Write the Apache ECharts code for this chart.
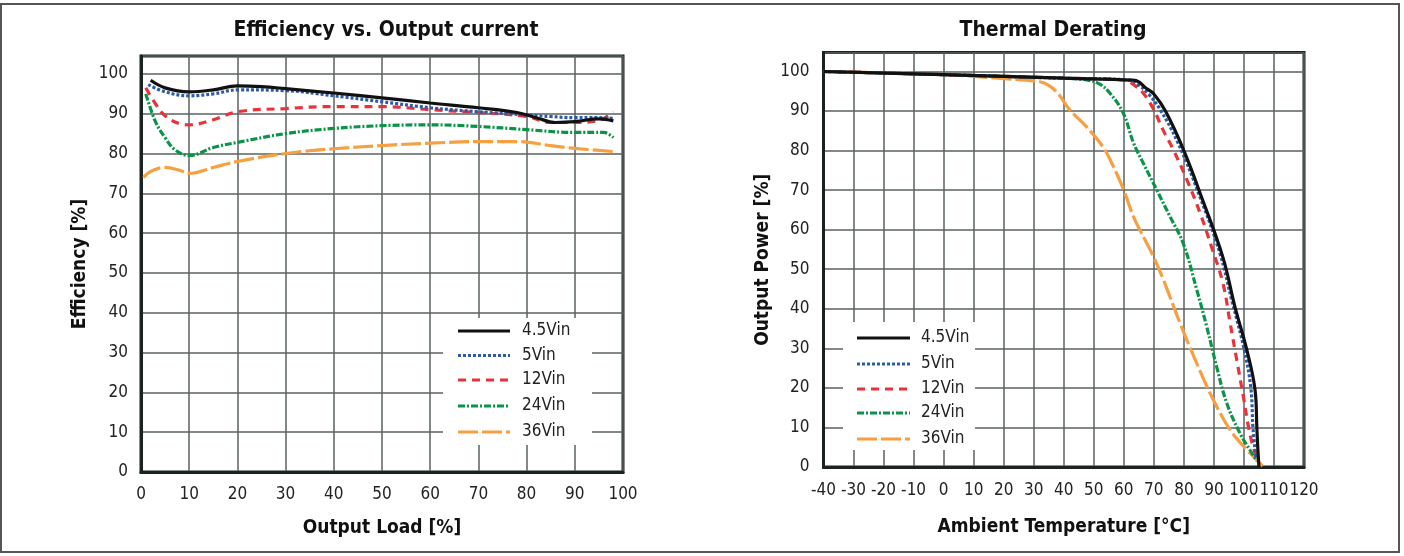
<!DOCTYPE html>
<html>
<head>
<meta charset="utf-8">
<script src="https://cdn.jsdelivr.net/npm/echarts@6/dist/echarts.min.js"></script>
<style>
html,body{margin:0;padding:0;background:#fff;}
#c{width:1404px;height:556px;}
</style>
</head>
<body>
<div id="c"></div>
<script>
// ---------- data ----------
const seriesNames = ['4.5Vin', '5Vin', '12Vin', '24Vin', '36Vin'];
const effTitle = 'Efficiency vs. Output current';
const thermTitle = 'Thermal Derating';

// Efficiency vs load: [load %, efficiency %]
const eff45 = [[2,98.4],[5,96.5],[10,95.5],[15,96],[20,97],[25,96.8],[30,96.3],[40,95.2],[50,94],[60,92.7],[70,91.5],[78,90.3],[82,89],[86,87.8],[90,88],[95,88.7],[98,88.2]];
const eff5 = [[1.5,97.3],[5,95.5],[10,94.5],[15,95],[20,96],[30,95.8],[40,94.5],[50,93],[60,91.5],[70,90.5],[80,89.7],[85,89.3],[90,89],[95,89],[98,88.8]];
const eff12 = [[1,96.5],[3,92.5],[5,89.5],[8,87.5],[10,87.2],[15,88.5],[20,90.5],[30,91.3],[40,91.8],[50,91.8],[60,91],[70,90.3],[80,89.3],[85,87.8],[90,87.8],[95,88.3],[98,90.5]];
const eff24 = [[1,95],[3,88],[5,84],[7,81],[10,79.5],[15,81.5],[20,82.8],[30,85],[40,86.3],[50,87],[60,87.2],[70,86.8],[80,86],[90,85.3],[96,85.3],[98,84]];
const eff36 = [[0.5,74],[2,75.5],[5,76.5],[8,75.8],[10,75],[15,76.5],[20,78],[30,80],[40,81.2],[50,82],[60,82.6],[70,83],[78,83],[85,82],[90,81.3],[98,80.5]];

// Thermal derating: [ambient °C, output power %]
const der45 = [[-40,100],[0,99.2],[40,98.3],[63,97.8],[65,97.4],[67,96],[70,94.3],[74,89.8],[80,80],[86,68],[93,53],[97,40.5],[101,29.5],[103.7,19.5],[104.3,10],[104.6,5],[105,0]];
const der5 = [[-40,100],[0,99.2],[40,98.3],[62,97.8],[65,96.5],[68,94.5],[72,90.5],[78,82],[85,69],[92,54],[96,42],[100,30],[102.3,20],[103,10],[104,2]];
const der12 = [[-40,100],[0,99.2],[40,98.3],[60,97.9],[63,96.8],[66.5,94.5],[70,90.3],[73,85.3],[76.5,80.2],[81,72.6],[85.4,64.2],[89.5,55],[93,46.5],[95.4,36.4],[97.6,27.1],[99.8,17.8],[101.5,10.2],[103.1,5],[104.8,1.5]];
const der24 = [[-40,100],[0,99.2],[40,98.3],[48,97.8],[52,96.8],[55.4,94.5],[59.8,89.5],[63.2,82],[66.5,76.8],[71,70],[75.4,63.3],[79.8,56.5],[84.3,44.8],[87.6,35.5],[90.9,25.4],[94.3,16.1],[98.7,8.5],[102,4.3],[104.3,1.5]];
const der36 = [[-40,100],[0,99.2],[20,98.2],[32,97.4],[35,96.5],[38,94.5],[42,90.3],[47.6,86],[53,81],[56.5,76],[60,70],[63.2,63.3],[67,57.5],[70,53],[73.2,47.3],[78.7,36.4],[84.3,26.2],[89.8,17],[95.4,9.4],[101,4.3],[104,2],[106.5,0]];

// ---------- styles ----------
const FONT = '"Liberation Sans Narrow", "DejaVu Sans Condensed", "Roboto Condensed", sans-serif';
const styles = {
  '4.5Vin': {color:'#111111', type:'solid', dash:null},
  '5Vin':   {color:'#2d5ba8', type:[3,2], dash:[3,2]},
  '12Vin':  {color:'#e8333b', type:[8,6], dash:[8,6]},
  '24Vin':  {color:'#0a9448', type:[7,2,2,2], dash:[7,2,2,2]},
  '36Vin':  {color:'#f6a041', type:[20,4], dash:[20,4]}
};
const effData = {'4.5Vin':eff45,'5Vin':eff5,'12Vin':eff12,'24Vin':eff24,'36Vin':eff36};
const derData = {'4.5Vin':der45,'5Vin':der5,'12Vin':der12,'24Vin':der24,'36Vin':der36};

function mkSeries(dataMap, idx, smooth) {
  const order = ['36Vin','24Vin','12Vin','5Vin','4.5Vin'];
  return order.map((n, i) => ({
    name: n, type: 'line', xAxisIndex: idx, yAxisIndex: idx,
    data: dataMap[n], showSymbol: false, symbol: 'none',
    smooth: smooth, z: 3 + i,
    lineStyle: {color: styles[n].color, type: styles[n].type, width: 3.2, cap: 'butt'},
    itemStyle: {color: styles[n].color},
    emphasis: {disabled: true}
  }));
}

function xAxis(idx, min, max, name, gap, margin) {
  return {
    type:'value', gridIndex: idx, min, max, interval: 10,
    name, nameLocation:'middle', nameGap: gap,
    nameTextStyle:{fontFamily:FONT, fontWeight:'bold', fontSize:19, color:'#111'},
    axisLine:{show:true, onZero:false, lineStyle:{color:'#1b2222', width:3}},
    axisTick:{show:false},
    axisLabel:{fontFamily:FONT, fontSize:17, color:'#222', margin, interval:0, hideOverlap:false, showMaxLabel:true, showMinLabel:true},
    splitLine:{show:true, lineStyle:{color:'#5a6060', width:1.5}}
  };
}
function yAxis(idx, max, name, gap, margin) {
  return {
    type:'value', gridIndex: idx, min:0, max, interval: 10,
    name, nameLocation:'middle', nameGap: gap, nameRotate: 90,
    nameTextStyle:{fontFamily:FONT, fontWeight:'bold', fontSize:19, color:'#111'},
    axisLine:{show:true, onZero:false, lineStyle:{color:'#1b2222', width:3}},
    axisTick:{show:false},
    axisLabel:{fontFamily:FONT, fontSize:17, color:'#222', margin, showMaxLabel:false,
      formatter: v => (v % 10 === 0 ? String(v) : '')},
    splitLine:{show:true, lineStyle:{color:'#5a6060', width:1.5}}
  };
}

// legend drawn as graphic (lines with the series' dash style + labels)
function legendGraphic(box, lineX0, lineX1, textX, rowY) {
  const els = [{type:'rect', shape:box, style:{fill:'#ffffff'}, z:100, silent:true}];
  seriesNames.forEach((n, i) => {
    const y = rowY[i];
    els.push({type:'line', shape:{x1:lineX0, y1:y, x2:lineX1, y2:y}, z:101, silent:true,
      style:{stroke:styles[n].color, lineWidth:3.2, lineDash:styles[n].dash, lineCap:'butt'}});
    els.push({type:'text', x:textX, y:y, z:101, silent:true,
      style:{text:n, fill:'#222', font:'17px ' + FONT, textVerticalAlign:'middle', textAlign:'left'}});
  });
  return els;
}

const chart = echarts.init(document.getElementById('c'), null, {renderer:'canvas'});
chart.setOption({
  animation:false,
  backgroundColor:'#ffffff',
  title:[
    {text:effTitle, left:381, top:15, textAlign:'center',
     textStyle:{fontFamily:FONT, fontWeight:'bold', fontSize:21, color:'#111'}},
    {text:thermTitle, left:1048, top:15, textAlign:'center',
     textStyle:{fontFamily:FONT, fontWeight:'bold', fontSize:21, color:'#111'}}
  ],
  grid:[
    {left:141, right:1404-623, top:56, bottom:556-472, show:true, borderColor:'#1b2222', borderWidth:3, backgroundColor:'transparent'},
    {left:823.5, right:1404-1304, top:52.5, bottom:556-467, show:true, borderColor:'#1b2222', borderWidth:3, backgroundColor:'transparent'}
  ],
  xAxis:[ xAxis(0, 0, 100, 'Output Load [%]', 47, 14), xAxis(1, -40, 120, 'Ambient Temperature [°C]', 51, 15) ],
  yAxis:[ yAxis(0, 104.5, 'Efficiency [%]', 51, 13), yAxis(1, 104.8, 'Output Power [%]', 51, 14) ],
  graphic:[
    {type:'rect', shape:{x:1, y:4, width:1398, height:548}, style:{fill:'none', stroke:'#555', lineWidth:2}, silent:true, z:-1},
    ...legendGraphic({x:443, y:318, width:149, height:127}, 458, 510, 522, [331, 355.5, 380, 406, 432]),
    ...legendGraphic({x:843, y:322, width:132, height:128}, 857, 910, 921, [338, 364, 389, 413, 439])
  ],
  series:[...mkSeries(effData, 0, 0.4), ...mkSeries(derData, 1, 0.4)]
});
</script>
</body>
</html>
